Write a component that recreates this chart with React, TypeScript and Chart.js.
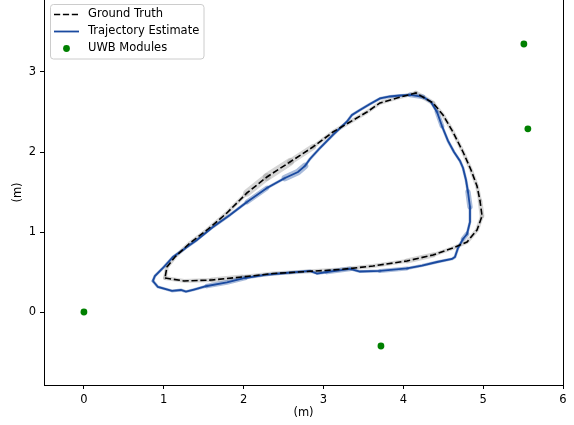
import { useEffect, useRef } from 'react';
import { Chart, registerables } from 'chart.js';

Chart.register(...registerables);

const FONT = "'DejaVu Sans', sans-serif";
const FONT_SIZE = 11.5;

const xTicks = [0, 1, 2, 3, 4, 5, 6];
const yTicks = [0, 1, 2, 3];
const xRange = [-0.5, 6];
const yRange = [-0.9125, 3.9];
const axisTitle = '(m)';
const legendLabels = ['Ground Truth', 'Trajectory Estimate', 'UWB Modules'];

// Ground truth path (m)
const gtX = [1.015, 1.253, 1.603, 1.979, 2.368, 2.793, 3.207, 3.62, 4.046, 4.372, 4.622, 4.798, 4.923, 4.986, 4.961, 4.923, 4.848, 4.748, 4.622, 4.497, 4.372, 4.159, 3.921, 3.708, 3.545, 3.332, 3.119, 2.869, 2.58, 2.292, 2.042, 1.791, 1.541, 1.328, 1.14, 1.04, 1.015];
const gtY = [0.425, 0.388, 0.4, 0.438, 0.481, 0.506, 0.531, 0.575, 0.638, 0.713, 0.8, 0.875, 1.025, 1.2, 1.388, 1.575, 1.775, 2.0, 2.25, 2.463, 2.613, 2.738, 2.675, 2.613, 2.5, 2.375, 2.25, 2.063, 1.875, 1.688, 1.488, 1.238, 1.025, 0.863, 0.688, 0.563, 0.425];
const gtStd = [0.024, 0.024, 0.032, 0.024, 0.024, 0.024, 0.024, 0.024, 0.032, 0.024, 0.024, 0.024, 0.024, 0.03, 0.024, 0.024, 0.024, 0.024, 0.024, 0.024, 0.03, 0.024, 0.024, 0.024, 0.024, 0.024, 0.024, 0.038, 0.05, 0.046, 0.024, 0.024, 0.024, 0.024, 0.024, 0.024, 0.024];

// Trajectory estimate path (m)
const estX = [0.864, 0.927, 1.102, 1.215, 1.278, 1.378, 1.541, 1.791, 2.017, 2.267, 2.455, 2.831, 2.919, 3.044, 3.332, 3.457, 3.708, 4.046, 4.234, 4.422, 4.61, 4.647, 4.685, 4.748, 4.798, 4.835, 4.835, 4.81, 4.785, 4.748, 4.71, 4.635, 4.56, 4.484, 4.422, 4.347, 4.247, 4.084, 3.958, 3.833, 3.708, 3.583, 3.457, 3.357, 3.295, 3.119, 2.956, 2.831, 2.768, 2.681, 2.518, 2.292, 2.042, 1.829, 1.616, 1.415, 1.29, 1.24, 1.115, 0.99, 0.889, 0.864];
const estY = [0.388, 0.313, 0.263, 0.275, 0.256, 0.281, 0.325, 0.369, 0.425, 0.463, 0.481, 0.513, 0.481, 0.5, 0.538, 0.506, 0.513, 0.544, 0.581, 0.625, 0.663, 0.688, 0.8, 0.913, 0.975, 1.125, 1.313, 1.5, 1.65, 1.8, 1.888, 2.0, 2.138, 2.325, 2.5, 2.625, 2.688, 2.713, 2.706, 2.694, 2.669, 2.6, 2.525, 2.463, 2.381, 2.213, 2.05, 1.913, 1.825, 1.75, 1.675, 1.55, 1.375, 1.213, 1.063, 0.9, 0.813, 0.775, 0.688, 0.55, 0.45, 0.388];
const estStd = [0.018, 0.018, 0.018, 0.018, 0.018, 0.018, 0.03, 0.03, 0.018, 0.018, 0.018, 0.018, 0.018, 0.03, 0.018, 0.018, 0.026, 0.018, 0.018, 0.018, 0.018, 0.018, 0.018, 0.03, 0.018, 0.018, 0.034, 0.018, 0.018, 0.018, 0.018, 0.018, 0.018, 0.03, 0.018, 0.018, 0.03, 0.018, 0.018, 0.018, 0.018, 0.018, 0.018, 0.018, 0.018, 0.018, 0.018, 0.018, 0.042, 0.042, 0.018, 0.03, 0.018, 0.018, 0.018, 0.018, 0.018, 0.018, 0.018, 0.018, 0.018, 0.018];

// UWB module positions (m)
const uwbX = [0, 3.72, 5.51, 5.56];
const uwbY = [0, -0.425, 3.35, 2.29];

const BLUE = '#1a4aa0';
const GREEN = '#008000';

const toPts = (xs: number[], ys: number[]) => xs.map((x, i) => ({ x, y: ys[i] }));

const pxPerUnit = (chart: any) => {
  const s = chart?.scales?.x;
  if (!s || !s.width) return 80;
  return s.width / (xRange[1] - xRange[0]);
};

const framePlugin = {
  id: 'frameLegend',
  afterDraw(chart: any) {
    const { ctx, chartArea: a } = chart;
    ctx.save();
    // right spine
    ctx.strokeStyle = '#000';
    ctx.lineWidth = 1;
    ctx.beginPath();
    ctx.moveTo(a.right + 0.5, a.top);
    ctx.lineTo(a.right + 0.5, a.bottom + 0.5);
    ctx.stroke();

    // legend box
    const bx = a.left + 6.5;
    const by = a.top + 4.5;
    const bw = 153.5;
    const bh = 54.5;
    ctx.beginPath();
    ctx.roundRect(bx, by, bw, bh, 3);
    ctx.fillStyle = 'rgba(255,255,255,0.8)';
    ctx.fill();
    ctx.strokeStyle = '#cccccc';
    ctx.lineWidth = 1;
    ctx.stroke();

    const hx0 = a.left + 10;
    const hx1 = a.left + 35;
    const rows = [a.top + 14.5, a.top + 31.5, a.top + 48.5];

    // GT handle
    ctx.beginPath();
    ctx.setLineDash([6.2, 2.7]);
    ctx.strokeStyle = '#000';
    ctx.lineWidth = 1.67;
    ctx.moveTo(hx0, rows[0]);
    ctx.lineTo(hx1, rows[0]);
    ctx.stroke();
    ctx.setLineDash([]);
    // estimate handle
    ctx.beginPath();
    ctx.strokeStyle = BLUE;
    ctx.lineWidth = 1.8;
    ctx.moveTo(hx0, rows[1]);
    ctx.lineTo(hx1, rows[1]);
    ctx.stroke();
    // uwb handle
    ctx.beginPath();
    ctx.fillStyle = GREEN;
    ctx.arc((hx0 + hx1) / 2, rows[2], 3.4, 0, Math.PI * 2);
    ctx.fill();

    ctx.fillStyle = '#000';
    ctx.font = `${FONT_SIZE}px ${FONT}`;
    ctx.textBaseline = 'middle';
    ctx.textAlign = 'left';
    legendLabels.forEach((t, i) => ctx.fillText(t, a.left + 44, rows[i]));
    ctx.restore();
  },
};

export default function App() {
  const ref = useRef<HTMLCanvasElement>(null);
  useEffect(() => {
    document.body.style.margin = '0';
    const font = { family: FONT, size: FONT_SIZE };
    const gtPts = toPts(gtX, gtY);
    const estPts = toPts(estX, estY);
    const chart = new Chart(ref.current as HTMLCanvasElement, {
      type: 'scatter',
      data: {
        datasets: [
          {
            label: legendLabels[2],
            data: toPts(uwbX, uwbY),
            showLine: false,
            pointRadius: 3.4,
            pointBackgroundColor: GREEN,
            pointBorderWidth: 0,
            order: 0,
          },
          {
            label: legendLabels[0],
            data: gtPts,
            showLine: true,
            borderColor: '#000',
            borderWidth: 1.6,
            borderDash: [6.2, 2.7],
            pointRadius: 0,
            order: 1,
          },
          {
            label: legendLabels[1],
            data: estPts,
            showLine: true,
            borderColor: BLUE,
            borderWidth: 1.8,
            pointRadius: 0,
            order: 2,
          },
          {
            label: 'estimate band',
            data: estPts,
            showLine: true,
            borderColor: 'rgba(31,78,160,0.38)',
            borderWidth: 3,
            borderCapStyle: 'round',
            borderJoinStyle: 'round',
            pointRadius: 0,
            order: 3,
            segment: {
              borderWidth: (c: any) => 2 * estStd[c.p0DataIndex] * pxPerUnit(c.chart),
            },
          } as any,
          {
            label: 'ground truth band',
            data: gtPts,
            showLine: true,
            borderColor: 'rgba(128,128,128,0.32)',
            borderWidth: 4,
            borderCapStyle: 'round',
            borderJoinStyle: 'round',
            pointRadius: 0,
            order: 4,
            segment: {
              borderWidth: (c: any) => 2 * gtStd[c.p0DataIndex] * pxPerUnit(c.chart),
            },
          } as any,
        ],
      },
      options: {
        animation: false,
        responsive: false,
        devicePixelRatio: 1,
        events: [],
        layout: { autoPadding: false, padding: { left: 0, right: 11, top: 0, bottom: 0 } },
        plugins: { legend: { display: false }, tooltip: { enabled: false } },
        scales: {
          x: {
            type: 'linear',
            position: 'bottom',
            min: xRange[0],
            max: xRange[1],
            afterBuildTicks: (s: any) => {
              s.ticks = xTicks.map((v) => ({ value: v }));
            },
            afterFit: (s: any) => {
              s.height = 40;
              s.paddingLeft = 0;
              s.paddingRight = 0;
              s.paddingTop = 0;
              s.paddingBottom = 0;
            },
            ticks: { font, color: '#000', padding: 4.5, maxRotation: 0, callback: (v: any) => String(v) },
            grid: { drawOnChartArea: false, drawTicks: true, tickLength: 4, color: '#000', lineWidth: 1 },
            border: { display: true, color: '#000', width: 1 },
            title: { display: true, text: axisTitle, font, color: '#000', padding: { top: 0, bottom: 5.4 } },
          },
          y: {
            type: 'linear',
            position: 'left',
            min: yRange[0],
            max: yRange[1],
            afterBuildTicks: (s: any) => {
              s.ticks = yTicks.map((v) => ({ value: v }));
            },
            afterFit: (s: any) => {
              s.width = 44;
              s.paddingLeft = 0;
              s.paddingRight = 0;
              s.paddingTop = 0;
              s.paddingBottom = 0;
            },
            ticks: { font, color: '#000', padding: 4, callback: (v: any) => String(v) },
            grid: { drawOnChartArea: false, drawTicks: true, tickLength: 4, color: '#000', lineWidth: 1 },
            border: { display: true, color: '#000', width: 1 },
            title: { display: true, text: axisTitle, font, color: '#000', padding: { top: 11.4, bottom: 0 } },
          },
        },
      },
      plugins: [framePlugin],
    });
    return () => chart.destroy();
  }, []);
  return (
    <canvas
      ref={ref}
      width={574}
      height={425}
      style={{ display: 'block', width: 574, height: 425 }}
    />
  );
}
